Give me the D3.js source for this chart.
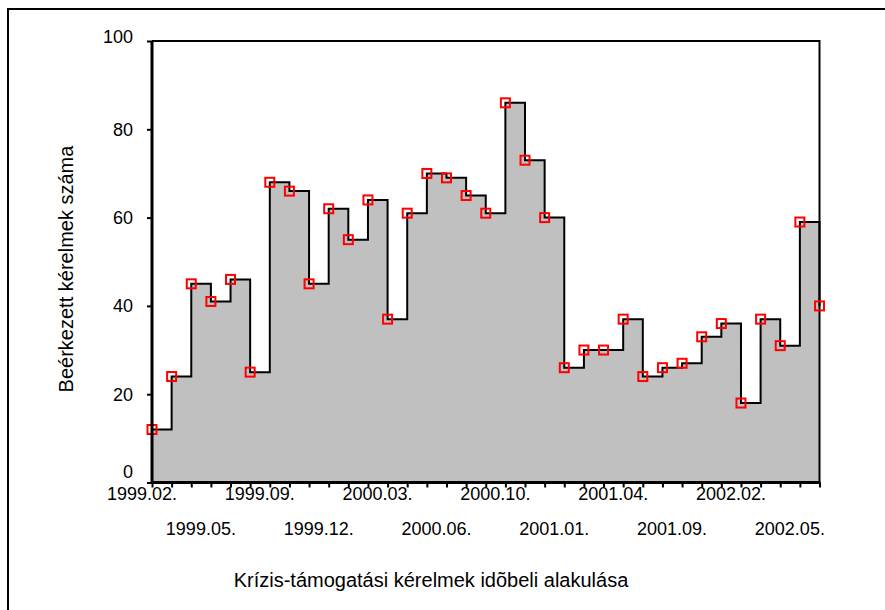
<!DOCTYPE html>
<html>
<head>
<meta charset="utf-8">
<script src="https://cdn.jsdelivr.net/npm/d3@7"></script>
<style>
  html, body { margin: 0; padding: 0; background: #fff; }
  svg { display: block; font-family: Arial, "Liberation Sans", sans-serif; }
</style>
</head>
<body>
<svg id="chart" width="885" height="610"></svg>
<script>
// ---- data ----
const counts = [12, 24, 45, 41, 46, 25, 68, 66, 45, 62, 55, 64, 37, 61, 70, 69, 65, 61,
                86, 73, 60, 26, 30, 30, 37, 24, 26, 27, 33, 36, 18, 37, 31, 59, 40];
const tickIndex = [0, 3, 6, 9, 12, 15, 18, 21, 24, 27, 30, 33];
const tickLabels = ["1999.02.", "1999.05.", "1999.09.", "1999.12.", "2000.03.", "2000.06.",
                    "2000.10.", "2001.01.", "2001.04.", "2001.09.", "2002.02.", "2002.05."];
const yTicks = [0, 20, 40, 60, 80, 100];
const yTitle = "Beérkezett kérelmek száma";
const xTitle = "Krízis-támogatási kérelmek idõbeli alakulása";

const svg = d3.select("#chart");
const pL = 152, pR = 819.5, pT = 41, pB = 482.5;

const x = d3.scalePoint().domain(d3.range(counts.length)).range([pL, pR]);
const y = d3.scaleLinear().domain([0, 100]).range([pB, pT]);

// outer frame
svg.append("rect").attr("x", 8).attr("y", 9).attr("width", 1000).attr("height", 1000)
  .attr("fill", "none").attr("stroke", "#000").attr("stroke-width", 2);

// area
const area = d3.area().curve(d3.curveStepAfter)
  .x((d, i) => x(i)).y0(y(0)).y1(d => y(d));
svg.append("path").datum(counts).attr("d", area).attr("fill", "#c0c0c0");

// plot frame (top + right)
svg.append("path")
  .attr("d", `M${pL},${pT}H${pR}V${pB}`)
  .attr("fill", "none").attr("stroke", "#000").attr("stroke-width", 2);

// step line
const line = d3.line().curve(d3.curveStepAfter).x((d, i) => x(i)).y(d => y(d));
svg.append("path").datum(counts).attr("d", line)
  .attr("fill", "none").attr("stroke", "#000").attr("stroke-width", 2);

// markers
svg.append("g").selectAll("rect").data(counts).join("rect")
  .attr("x", (d, i) => x(i) - 4.5).attr("y", d => y(d) - 4.5)
  .attr("width", 9).attr("height", 9)
  .attr("fill", "none").attr("stroke", "#ff0000").attr("stroke-width", 2);

// x axis
const xAxis = d3.axisBottom(x).tickSize(5).tickFormat("");
const gx = svg.append("g").attr("transform", `translate(0,${pB})`).call(xAxis);
gx.select(".domain").attr("stroke-width", 3).attr("d", `M${pL - 1},0H${pR + 1}`);
gx.selectAll(".tick line").attr("stroke-width", 2);

svg.append("g").selectAll("text").data(tickIndex).join("text")
  .attr("x", d => x(d) - 10)
  .attr("y", (d, i) => i % 2 === 0 ? 500 : 535)
  .attr("text-anchor", "middle").attr("font-size", 18).attr("fill", "#000")
  .text((d, i) => tickLabels[i]);

// y axis
const yAxis = d3.axisLeft(y).tickValues(yTicks).tickSize(5).tickFormat("");
const gy = svg.append("g").attr("transform", `translate(${pL},0)`).call(yAxis);
gy.select(".domain").attr("stroke-width", 3).attr("d", `M0,${pT}V${pB + 1}`);
gy.selectAll(".tick line").attr("stroke-width", 2);

svg.append("g").selectAll("text").data(yTicks).join("text")
  .attr("x", 133)
  .attr("y", d => y(d) + (d === 0 ? -11 : (d === 100 ? -4 : 0)))
  .attr("dy", "0.35em")
  .attr("text-anchor", "end").attr("font-size", 18).attr("fill", "#000")
  .text(d => d);

// titles
svg.append("text")
  .attr("transform", `translate(73,269) rotate(-90)`)
  .attr("text-anchor", "middle").attr("font-size", 20).attr("fill", "#000")
  .text(yTitle);

svg.append("text")
  .attr("x", 431).attr("y", 587)
  .attr("text-anchor", "middle").attr("font-size", 20).attr("fill", "#000")
  .text(xTitle);
</script>
</body>
</html>
